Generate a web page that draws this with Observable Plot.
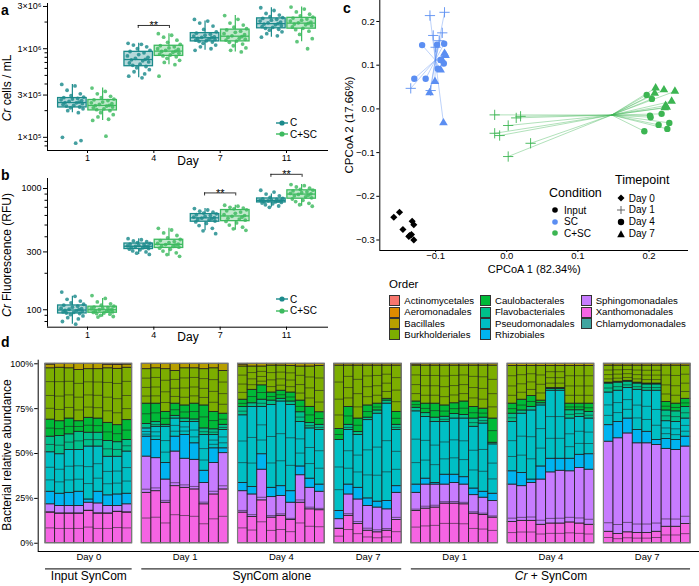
<!DOCTYPE html>
<html><head><meta charset="utf-8">
<script src="https://cdn.jsdelivr.net/npm/d3@7"></script>
<script src="https://cdn.jsdelivr.net/npm/@observablehq/plot@0.6"></script>
<style>
body{margin:0;background:#fff;font-family:"Liberation Sans",Arial,Helvetica,sans-serif;color:#000;}
#fig{position:relative;width:699px;height:586px;overflow:hidden;background:#fff;}
#fig svg{position:absolute;overflow:visible;background:transparent;}
.lab{position:absolute;font-weight:bold;font-size:14px;line-height:14px;}
.rot{position:absolute;width:220px;height:14px;line-height:14px;text-align:center;transform:rotate(-90deg);font-size:12px;white-space:nowrap;}
.leg{position:absolute;font-size:10px;line-height:11.5px;white-space:nowrap;}
.row{display:flex;align-items:center;height:11.5px;}
</style></head>
<body><div id="fig"></div>
<script>
// ---------------- data: panels a & b ----------------
const dayLabels = ["1", "4", "7", "11"];
const condAB = ["C", "C+SC"];
const colorsAB = ["#1b8a8b", "#3dba5f"];
// Cr cells / mL, in units of 10^5, per day (1, 4, 7, 11)
const cellsC = [
  [3.95, 3.8, 3.4, 3.1, 2.95, 2.85, 2.8, 2.75, 2.7, 2.65, 2.6, 2.55, 2.5, 2.47, 2.45, 2.4, 2.35, 2.3, 2.25, 2.2, 2.15, 2.1, 2.0, 1.9, 1.0, 0.86, 0.92],
  [11.5, 11.2, 11.0, 10.5, 10.0, 9.6, 9.3, 9.0, 8.6, 8.3, 8.0, 7.8, 7.6, 7.5, 7.3, 7.1, 6.9, 6.7, 6.5, 6.3, 6.1, 5.8, 5.5, 5.2, 4.9, 4.7],
  [21.4, 20.5, 19.5, 18.0, 16.5, 15.5, 15.0, 14.6, 14.2, 13.9, 13.6, 13.4, 13.3, 13.1, 12.9, 12.7, 12.5, 12.3, 12.1, 11.9, 11.5, 11.0, 10.5, 10.0, 9.6],
  [29, 27, 25, 24, 23, 22.5, 22, 21.5, 21, 20.5, 20, 19.6, 19.2, 19.0, 18.6, 18.2, 17.8, 17.4, 17.0, 16.6, 16.2, 15.5, 14.8, 14.0, 13.5]
];
const cellsCSC = [
  [3.6, 3.3, 3.1, 2.9, 2.8, 2.7, 2.65, 2.6, 2.5, 2.45, 2.4, 2.35, 2.3, 2.28, 2.25, 2.2, 2.15, 2.1, 2.05, 2.0, 1.9, 1.8, 1.7, 1.6, 1.55, 1.03],
  [14.8, 14.2, 13.5, 12.5, 11.8, 11.2, 10.8, 10.5, 10.2, 10.0, 9.8, 9.6, 9.4, 9.3, 9.1, 8.9, 8.7, 8.5, 8.3, 8.1, 7.8, 7.4, 7.0, 6.6, 4.9],
  [23.7, 21.5, 19.5, 18.5, 17.5, 16.8, 16.3, 15.8, 15.3, 14.8, 14.4, 14.0, 13.7, 13.4, 13.1, 12.8, 12.5, 12.2, 11.8, 11.3, 10.8, 10.2, 9.6, 9.2],
  [29.5, 28, 26, 24.5, 23.5, 22.7, 22.2, 21.6, 21.0, 20.5, 20.0, 19.6, 19.3, 19.0, 18.6, 18.2, 17.6, 17.0, 16.4, 15.8, 14.5, 13.0, 12.0, 10.0]
];
// Cr fluorescence (RFU)
const rfuC = [
  [140, 129, 122, 118, 114, 111, 109, 107, 105, 103, 102, 101, 100, 99, 98, 97, 96, 95, 94, 93, 91, 89, 86, 84, 80, 76],
  [386, 378, 370, 364, 358, 353, 348, 344, 340, 337, 335, 333, 330, 327, 324, 320, 316, 312, 306, 300, 293, 286],
  [683, 665, 650, 638, 628, 618, 608, 598, 590, 582, 576, 570, 563, 556, 549, 540, 530, 515, 495, 470, 448, 424],
  [968, 935, 900, 870, 845, 828, 820, 812, 805, 800, 796, 792, 788, 782, 775, 768, 760, 748, 735, 718, 700]
];
const rfuCSC = [
  [131, 124, 116, 112, 109, 107, 105, 104, 103, 102, 101, 100, 99, 98, 97, 96, 95, 94, 93, 92, 90, 88, 87],
  [470, 455, 430, 410, 392, 380, 372, 365, 358, 352, 348, 345, 341, 337, 333, 328, 322, 315, 305, 295, 285, 276],
  [728, 715, 700, 690, 680, 668, 655, 640, 625, 610, 598, 590, 580, 570, 560, 548, 535, 520, 500, 480, 465, 452],
  [1079, 1055, 1030, 1005, 985, 970, 955, 940, 925, 912, 905, 895, 882, 870, 855, 838, 820, 800, 780, 755, 735, 714]
];
const sigA = [{day: 1, y: 1.83e6, label: "**"}];
const sigB = [{day: 2, y: 920, label: "**"}, {day: 3, y: 1310, label: "**"}];
const ticksA = [1e5, 3e5, 1e6, 3e6];
const tickLabelsA = ["1×10⁵", "3×10⁵", "1×10⁶", "3×10⁶"];
const minorA = [8e4, 9e4, 2e5, 4e5, 5e5, 6e5, 7e5, 8e5, 9e5, 2e6];
const ticksB = [100, 300, 1000];
const minorB = [80, 90, 200, 400, 500, 600, 700, 800, 900];

// ---------------- data: panel c ----------------
const condC = ["Input", "SC", "C+SC"];
const colorsC = ["#000000", "#5b8ef2", "#3cb552"];
const timepoints = ["Day 0", "Day 1", "Day 4", "Day 7"];
const inputDay0 = [[-0.1588,-0.248],[-0.1508,-0.2366],[-0.146,-0.276],[-0.133,-0.257],[-0.1307,-0.265],[-0.1367,-0.290],[-0.134,-0.2876],[-0.1377,-0.292],[-0.1307,-0.2998]];
const scDay1 = [[-0.108,0.2135],[-0.0875,0.221],[-0.1034,0.168],[-0.0907,0.174],[-0.100,0.141],[-0.095,0.156],[-0.135,0.047],[-0.107,0.042]];
const scDay4 = [[-0.119,0.146],[-0.098,0.147],[-0.088,0.149],[-0.130,0.069],[-0.114,0.069],[-0.093,0.112],[-0.0885,0.104],[-0.097,0.092]];
const scDay7 = [[-0.0875,0.127],[-0.086,0.122],[-0.091,0.112],[-0.093,0.089],[-0.101,0.0625],[-0.1085,0.037],[-0.089,-0.032]];
const cscDay1 = [[-0.017,-0.0137],[0.0133,-0.0206],[0.0194,-0.017],[0.002,-0.038],[-0.017,-0.0558],[-0.010,-0.061],[0.0335,-0.0787],[0.002,-0.109]];
const cscDay4 = [[0.1967,0.032],[0.204,0.0229],[0.2177,-0.0114],[0.2013,-0.0153],[0.2022,-0.019],[0.2285,-0.032],[0.2135,-0.0366],[0.2257,-0.0458],[0.1934,-0.0512]];
const cscDay7 = [[0.2093,0.048],[0.221,0.0435],[0.2364,0.0403],[0.208,0.0357],[0.2318,0.0174],[0.2233,0.0076],[0.222,0.0023],[0.2248,0.0037]];

// ---------------- data: panel d ----------------
const legendOrders = ["Actinomycetales","Aeromonadales","Bacillales","Burkholderiales","Caulobacterales","Flavobacteriales","Pseudomonadales","Rhizobiales","Sphingomonadales","Xanthomonadales","Chlamydomonadales"];
const orderColors = ["#F8766D","#DE8C00","#B79F00","#7CAE00","#00BA38","#00C08B","#00BFC4","#00B4F0","#C77CFF","#F564E3","#40A5A0"];
const stackOrders = ["Xanthomonadales","Sphingomonadales","Rhizobiales","Pseudomonadales","Flavobacteriales","Caulobacterales","Burkholderiales","Bacillales","Actinomycetales"];
const facetLabels = ["Day 0","Day 1","Day 4","Day 7","Day 1","Day 4","Day 7"];
const facetSizes = [9, 9, 9, 7, 9, 9, 9];
const facetSection = [0, 1, 1, 1, 2, 2, 2];
const sectionLabels = ["Input SynCom", "SynCom alone", "Cr + SynCom"];
// cumulative top (%) of each order, per bar
const topXan = [17.1,16.5,16.5,16.5,18.0,16.5,16.5,17.5,17.1, 28.1,29.0,22.6,31.8,30.9,30.0,21.7,27.2,30.0, 17.1,14.7,23.9,14.3,15.3,12.9,22.6,18.9,18.4, 7.9,15.3,10.7,7.0,6.1,7.0,12.9, 18.0,19.3,19.9,22.1,22.1,21.7,16.5,15.8,14.3, 11.9,12.5,12.5,10.3,11.0,11.0,11.6,11.0,10.3, 6.4,5.1,6.1,5.7,5.7,6.4,9.2,9.2,10.7];
const topSph = [21.7,20.8,20.8,20.8,22.6,22.2,20.8,20.8,21.7, 48.3,47.4,35.5,51.1,47.1,46.5,33.6,44.7,50.2, 29.0,27.2,41.0,25.7,26.3,22.6,37.9,30.9,28.7, 13.4,27.2,24.4,20.8,19.9,18.9,28.1, 28.1,32.7,32.7,32.7,33.6,32.7,26.8,25.4,23.5, 32.7,31.8,33.6,35.5,39.5,40.4,40.1,41.9,41.0, 56.6,58.5,61.2,55.7,55.7,54.8,52.6,52.0,53.9];
const topRhi = [28.7,27.6,28.1,28.7,24.4,28.7,26.7,27.2,27.6, 59.4,57.5,44.7,59.4,60.3,55.7,40.4,52.9,52.9, 33.6,31.3,49.6,30.9,31.8,29.0,42.8,36.0,32.7, 18.0,32.7,30.9,25.0,23.2,23.5,31.8, 32.7,36.0,33.6,38.2,38.2,36.8,30.5,28.7,27.6, 40.1,39.2,35.5,42.8,47.1,47.1,47.1,49.3,49.6, 65.8,67.6,69.5,63.1,62.1,57.5,58.1,57.5,59.4];
const topPse = [50.7,49.6,52.0,52.0,53.9,53.9,48.2,48.2,51.1, 64.0,64.9,64.9,69.5,67.6,67.6,60.3,60.3,63.1, 71.3,75.9,76.0,77.0,79.0,77.0,67.6,64.0,63.1, 57.5,63.1,60.3,68.6,72.2,77.8,63.1, 73.5,70.4,67.6,67.6,69.5,69.5,64.9,66.7,55.1, 67.6,72.2,74.0,76.8,85.0,85.0,69.5,70.4,69.5, 84.0,85.0,86.5,85.5,85.0,85.0,68.0,67.6,69.5];
const topFla = [59.4,59.7,60.7,62.1,61.6,61.6,57.0,56.3,57.5, 66.5,67.5,66.0,71.0,69.5,69.0,64.0,63.5,66.0, 75.9,78.0,80.0,79.5,80.5,79.0,73.0,67.0,66.0, 57.5,66.0,62.0,70.0,74.0,79.5,66.0, 75.5,72.5,70.0,70.5,72.0,71.5,69.5,70.0,56.0, 72.2,74.0,76.0,78.0,86.0,86.0,74.1,74.1,73.2, 89.0,89.5,90.0,89.0,88.5,88.5,74.0,73.5,75.9];
const topCau = [68.9,68.0,69.5,68.0,69.9,69.5,67.1,65.8,68.6, 77.8,77.8,73.2,77.8,76.8,77.8,76.8,73.2,72.2, 80.0,85.5,88.0,84.0,85.0,84.0,79.5,76.0,73.0, 63.7,75.9,69.5,76.8,77.8,80.5,73.2, 79.0,77.8,77.8,76.8,78.0,79.0,75.9,75.0,69.5, 77.8,80.0,82.0,79.5,86.5,86.5,77.8,77.8,77.8, 89.5,90.0,90.5,89.5,89.0,89.0,78.7,77.8,80.5];
const topBur = [97.5,97.8,97.5,96.5,97.0,97.0,97.5,97.2,97.8, 97.0,97.5,97.0,96.0,97.5,97.5,97.0,97.5,96.0, 98.5,98.5,98.5,99.0,99.0,98.8,98.5,98.5,98.8, 99.0,99.0,99.0,99.0,99.0,99.0,99.0, 99.0,99.0,99.0,99.0,99.0,99.0,99.0,99.0,99.0, 98.8,98.8,98.8,98.8,98.8,98.8,98.8,98.8,98.8, 99.0,99.0,99.0,99.0,99.0,99.0,99.0,99.0,99.0];
const topBac = [99.6,100,100,100,100,100,99.5,99.4,99.6, 100,100,100,100,100,100,100,100,100, 99.6,100,100,100,100,100,100,100,100, 100,100,100,100,100,100,100, 99.7,100,100,100,100,100,100,100,100, 100,100,100,100,100,100,100,100,100, 100,100,100,100,100,100,100,100,100];
// relative positions of strain boundaries inside each order segment
const strainCuts = [[0.5], [0.1], [], [0.3, 0.62], [0.5], [0.5], [0.22, 0.47, 0.74], [], []];

// ---------------- helpers ----------------
const FONT = '"Liberation Sans", Arial, Helvetica, sans-serif';
const fig = document.getElementById("fig");
function put(el, left, top) { el.style.left = left + "px"; el.style.top = top + "px"; fig.appendChild(el); return el; }
function div(cls, html, left, top) { const e = document.createElement("div"); e.className = cls; e.innerHTML = html; return put(e, left, top); }

function boxStats(vals) {
  const l = vals.map(Math.log10).sort(d3.ascending);
  const q1 = d3.quantile(l, 0.25), med = d3.quantile(l, 0.5), q3 = d3.quantile(l, 0.75), iqr = q3 - q1;
  const lo = d3.min(l.filter(v => v >= q1 - 1.5 * iqr)), hi = d3.max(l.filter(v => v <= q3 + 1.5 * iqr));
  return {q1: 10 ** q1, med: 10 ** med, q3: 10 ** q3, lo: 10 ** lo, hi: 10 ** hi};
}
const jitter = [-0.16,0.04,-0.08,0.12,-0.02,0.17,-0.13,0.08,0.0,-0.17,0.14,-0.05,0.1,-0.11,0.06,0.15,-0.14,0.02,-0.09,0.11,-0.03,0.16,-0.07,0.09,-0.15,0.05,0.13];
const dodge = 0.228, halfBox = 0.215;
function buildRows(sC, sCSC, unit) {
  const pts = [], boxes = [];
  [sC, sCSC].forEach((series, ci) => series.forEach((vals, di) => {
    const cx = di + (ci ? dodge : -dodge);
    vals.forEach((v, j) => pts.push({cond: condAB[ci], x: cx + jitter[j % jitter.length], y: v * unit}));
    boxes.push({cond: condAB[ci], x: cx, ...boxStats(vals.map(v => v * unit))});
  }));
  return {pts, boxes};
}
const xDomAB = [-0.603, 3.633];
function boxPlot({rows, yDomain, ticks, tickFmt, minor, sig, drop, height, mt, mb, dayDy}) {
  return Plot.plot({
    width: 340, height, marginLeft: 47, marginRight: 12, marginTop: mt, marginBottom: mb,
    style: {fontFamily: FONT, fontSize: "9px", color: "#000", background: "transparent", overflow: "visible"},
    x: {domain: xDomAB},
    y: {type: "log", domain: yDomain},
    color: {domain: condAB, range: colorsAB},
    marks: [
      Plot.axisY({ticks, tickFormat: tickFmt, tickSize: 4, tickPadding: 2, label: null}),
      Plot.axisY({ticks: minor, tickFormat: () => "", tickSize: 2.5, label: null}),
      Plot.axisX({ticks: [0, 1, 2, 3], tickFormat: i => dayLabels[i], tickSize: 3, tickPadding: 1.5, label: null}),
      Plot.ruleX([xDomAB[0]], {stroke: "#000", strokeWidth: 1}),
      Plot.ruleY([yDomain[0]], {stroke: "#000", strokeWidth: 1}),
      Plot.ruleX(rows.boxes, {x: "x", y1: "lo", y2: "q1", stroke: "cond", strokeWidth: 1.2}),
      Plot.ruleX(rows.boxes, {x: "x", y1: "q3", y2: "hi", stroke: "cond", strokeWidth: 1.2}),
      Plot.rect(rows.boxes, {x1: d => d.x - halfBox, x2: d => d.x + halfBox, y1: "q1", y2: "q3", fill: "cond", fillOpacity: 0.32, stroke: "cond", strokeWidth: 1.3}),
      Plot.ruleY(rows.boxes, {y: "med", x1: d => d.x - halfBox, x2: d => d.x + halfBox, stroke: "cond", strokeWidth: 1.3}),
      Plot.dot(rows.pts, {x: "x", y: "y", fill: "cond", r: 1.9, fillOpacity: 0.82}),
      Plot.ruleY(sig, {y: "y", x1: d => d.day - 0.235, x2: d => d.day + 0.235, stroke: "#000", strokeWidth: 0.8}),
      Plot.ruleX(sig, {x: d => d.day - 0.235, y1: "y", y2: d => d.y * drop, stroke: "#000", strokeWidth: 0.8}),
      Plot.ruleX(sig, {x: d => d.day + 0.235, y1: "y", y2: d => d.y * drop, stroke: "#000", strokeWidth: 0.8}),
      Plot.text(sig, {x: "day", y: "y", text: "label", lineAnchor: "bottom", dy: 4, fontSize: 11}),
      Plot.text(["Day"], {text: d => d, frameAnchor: "bottom", dy: dayDy, fontSize: 12})
    ]
  });
}

// ---------------- panel a ----------------
const rowsA = buildRows(cellsC, cellsCSC, 1e5);
const svgA = boxPlot({rows: rowsA, yDomain: [71000, 3.24e6], ticks: ticksA, tickFmt: d => tickLabelsA[ticksA.indexOf(d)], minor: minorA, sig: sigA, drop: 0.925, height: 170, mt: 3, mb: 20, dayDy: 14});
put(svgA, 0, 0);
// ---------------- panel b ----------------
const rowsB = buildRows(rfuC, rfuCSC, 1);
const svgB = boxPlot({rows: rowsB, yDomain: [71.8, 1210], ticks: ticksB, tickFmt: d => String(d), minor: minorB, sig: sigB, drop: 0.944, height: 175, mt: 8, mb: 18.3, dayDy: 13.3});
put(svgB, 0, 170);

function condLegend(top) {
  const html = condAB.map((c, i) => `<div class="row"><svg width="12" height="8" style="position:static"><line x1="0" x2="12" y1="4" y2="4" stroke="${colorsAB[i]}" stroke-width="1.4"/><circle cx="6" cy="4" r="2.6" fill="${colorsAB[i]}"/></svg><span style="margin-left:2px">${c}</span></div>`).join("");
  div("leg", html, 276, top);
}
condLegend(117.2);
condLegend(293.5);

// ---------------- panel c ----------------
const pcoa = [];
[[inputDay0, "Input", "Day 0"], [scDay1, "SC", "Day 1"], [scDay4, "SC", "Day 4"], [scDay7, "SC", "Day 7"],
 [cscDay1, "C+SC", "Day 1"], [cscDay4, "C+SC", "Day 4"], [cscDay7, "C+SC", "Day 7"]]
  .forEach(([arr, cond, time]) => arr.forEach(([x, y]) => pcoa.push({x, y, cond, time})));
const centroids = new Map(d3.groups(pcoa, d => d.cond).map(([k, v]) => [k, {x: d3.mean(v, d => d.x), y: d3.mean(v, d => d.y)}]));
const xDomC = [-0.1785, 0.2555], yDomC = [-0.324, 0.248];
const fmtC = d3.format(".1f");
const svgC = Plot.plot({
  width: 359, height: 280, marginLeft: 39.3, marginRight: 11, marginTop: 0, marginBottom: 30,
  style: {fontFamily: FONT, fontSize: "9.5px", color: "#000", background: "transparent", overflow: "visible"},
  x: {domain: xDomC}, y: {domain: yDomC},
  color: {domain: condC, range: colorsC},
  symbol: {domain: timepoints, range: ["diamond2", "plus", "circle", "triangle"]},
  marks: [
    Plot.axisX({ticks: [-0.1, 0, 0.1, 0.2], tickFormat: fmtC, tickSize: 2, tickPadding: 0, label: null}),
    Plot.axisY({ticks: [-0.3, -0.2, -0.1, 0, 0.1, 0.2], tickFormat: fmtC, tickSize: 3, tickPadding: 2, label: null}),
    Plot.ruleX([xDomC[0]], {stroke: "#000", strokeWidth: 1}),
    Plot.ruleY([yDomC[0]], {stroke: "#000", strokeWidth: 1}),
    Plot.link(pcoa, {x1: "x", y1: "y", x2: d => centroids.get(d.cond).x, y2: d => centroids.get(d.cond).y,
      stroke: d => d.cond === "Input" ? "#777" : d.cond, strokeOpacity: d => d.cond === "Input" ? 1 : 0.5, strokeWidth: 0.8}),
    Plot.dot(pcoa.filter(d => d.time !== "Day 1"), {x: "x", y: "y", fill: "cond", symbol: "time", r: 3.2}),
    Plot.dot(pcoa.filter(d => d.time === "Day 1"), {x: "x", y: "y", stroke: "cond", symbol: "time", r: 3.4, strokeWidth: 0.9}),
    Plot.text(["CPCoA 1 (82.34%)"], {text: d => d, frameAnchor: "bottom", dy: 22.5, fontSize: 11})
  ]
});
put(svgC, 340, 0);
div("rot", "CPCoA 2 (17.66%)", 349 - 110, 125 - 7).style.fontSize = "11.5px";

// legends for c
div("leg", `<div style="font-size:12.5px;line-height:14px">Condition</div>`, 549, 186);
div("leg", condC.map((c, i) => `<div class="row"><svg width="10" height="8" style="position:static"><circle cx="4" cy="4" r="2.8" fill="${colorsC[i]}"/></svg><span style="margin-left:3px">${c}</span></div>`).join(""), 551, 204.7);
div("leg", `<div style="font-size:12.5px;line-height:14px">Timepoint</div>`, 615, 173);
const symSvg = [
  `<polygon points="4,0.5 7.5,4 4,7.5 0.5,4" fill="#000"/>`,
  `<line x1="0" x2="8" y1="4" y2="4" stroke="#555" stroke-width="0.9"/><line x1="4" x2="4" y1="0" y2="8" stroke="#555" stroke-width="0.9"/>`,
  `<circle cx="4" cy="4" r="3.2" fill="#000"/>`,
  `<polygon points="4,0.3 7.8,7.3 0.2,7.3" fill="#000"/>`
];
div("leg", timepoints.map((t, i) => `<div class="row" style="height:11.9px"><svg width="8" height="8" style="position:static">${symSvg[i]}</svg><span style="margin-left:4px">${t}</span></div>`).join(""), 616.7, 192.4);

// Order legend
div("leg", `<div style="font-size:11.5px;line-height:14px">Order</div>`, 389, 277);
const cols = [[0, 1, 2, 3], [4, 5, 6, 7], [8, 9, 10]];
const colX = [389.3, 480, 580.7];
cols.forEach((idx, c) => {
  div("leg", idx.map(i => `<div class="row" style="height:11.2px"><span style="display:inline-block;width:9px;height:9px;background:${orderColors[i]};border:1px solid #333"></span><span style="margin-left:4px;font-size:9.6px">${legendOrders[i]}</span></div>`).join(""), colX[c], 295.4);
});

// ---------------- panel d ----------------
const facetStart = [];
facetSizes.reduce((acc, n, i) => { facetStart[i] = acc; return acc + n + 1; }, 0);
const facets = facetLabels.map((label, i) => ({label, start: facetStart[i], n: facetSizes[i], section: facetSection[i]}));
const barX = [];
facets.forEach(f => { for (let k = 0; k < f.n; k++) barX.push(f.start + k); });
const topsByOrder = [topXan, topSph, topRhi, topPse, topFla, topCau, topBur, topBac];
const segs = [], cuts = [];
barX.forEach((bx, b) => {
  let prev = 0;
  stackOrders.forEach((o, k) => {
    const top = k < topsByOrder.length ? topsByOrder[k][b] : 100;
    if (top - prev > 0.01) {
      segs.push({x1: bx, x2: bx + 1, y1: prev, y2: top, order: o});
      if (top - prev > 2.5) strainCuts[k].forEach(f => cuts.push({x1: bx, x2: bx + 1, y: prev + f * (top - prev)}));
    }
    prev = top;
  });
});
const sections = sectionLabels.map((label, s) => {
  const fs = facets.filter(f => f.section === s);
  return {label, x1: fs[0].start, x2: fs[fs.length - 1].start + fs[fs.length - 1].n};
});
const xDomD = [-0.76, 67.93], yDomD = [-4.6, 102];
const svgD = Plot.plot({
  width: 699, height: 241, marginLeft: 37.7, marginRight: 0, marginTop: 14.7, marginBottom: 35,
  style: {fontFamily: FONT, fontSize: "9px", color: "#000", background: "transparent", overflow: "visible"},
  x: {domain: xDomD, axis: null},
  y: {domain: yDomD},
  color: {domain: legendOrders, range: orderColors},
  marks: [
    Plot.axisY({ticks: [0, 25, 50, 75, 100], tickFormat: d => d + "%", tickSize: 3.5, tickPadding: 1.5, label: null}),
    Plot.ruleX([xDomD[0]], {stroke: "#000", strokeWidth: 1}),
    Plot.ruleY([yDomD[0]], {stroke: "#000", strokeWidth: 1}),
    Plot.rect(segs, {x1: "x1", x2: "x2", y1: "y1", y2: "y2", fill: "order", stroke: "#1e1e1e", strokeWidth: 0.8}),
    Plot.ruleY(cuts, {x1: "x1", x2: "x2", y: "y", stroke: "#1e1e1e", strokeWidth: 0.7, strokeOpacity: 0.8}),
    Plot.rect(facets, {x1: "start", x2: d => d.start + d.n, y1: 0, y2: 100, fill: "none", stroke: "#7a7a7a", strokeWidth: 1.2}),
    Plot.text(facets, {x: d => d.start + d.n / 2, text: "label", frameAnchor: "bottom", dy: 8.5, fontSize: 9.5}),
    Plot.ruleY(sections, {x1: "x1", x2: "x2", y: -14.3, stroke: "#000", strokeWidth: 1}),
    Plot.text(sections, {x: d => (d.x1 + d.x2) / 2, text: "label", frameAnchor: "bottom", dy: 28.5, fontSize: 12})
  ]
});
put(svgD, 0, 345);
d3.select(svgD).selectAll("text").each(function () {
  if (this.textContent === "Cr + SynCom") {
    const t = d3.select(this); t.text("");
    t.append("tspan").attr("font-style", "italic").text("Cr");
    t.append("tspan").text(" + SynCom");
  }
});

// ---------------- titles and panel letters ----------------
div("rot", "<i>Cr</i> cells / mL", 7 - 110, 88 - 7);
div("rot", "<i>Cr</i> Fluorescence (RFU)", 7 - 110, 255 - 7);
div("rot", "Bacterial relative abundance", 7 - 110, 455 - 7);
div("lab", "a", 1, 3);
div("lab", "b", 1, 168);
div("lab", "c", 343, 1);
div("lab", "d", 1, 335);
</script>
</body></html>
